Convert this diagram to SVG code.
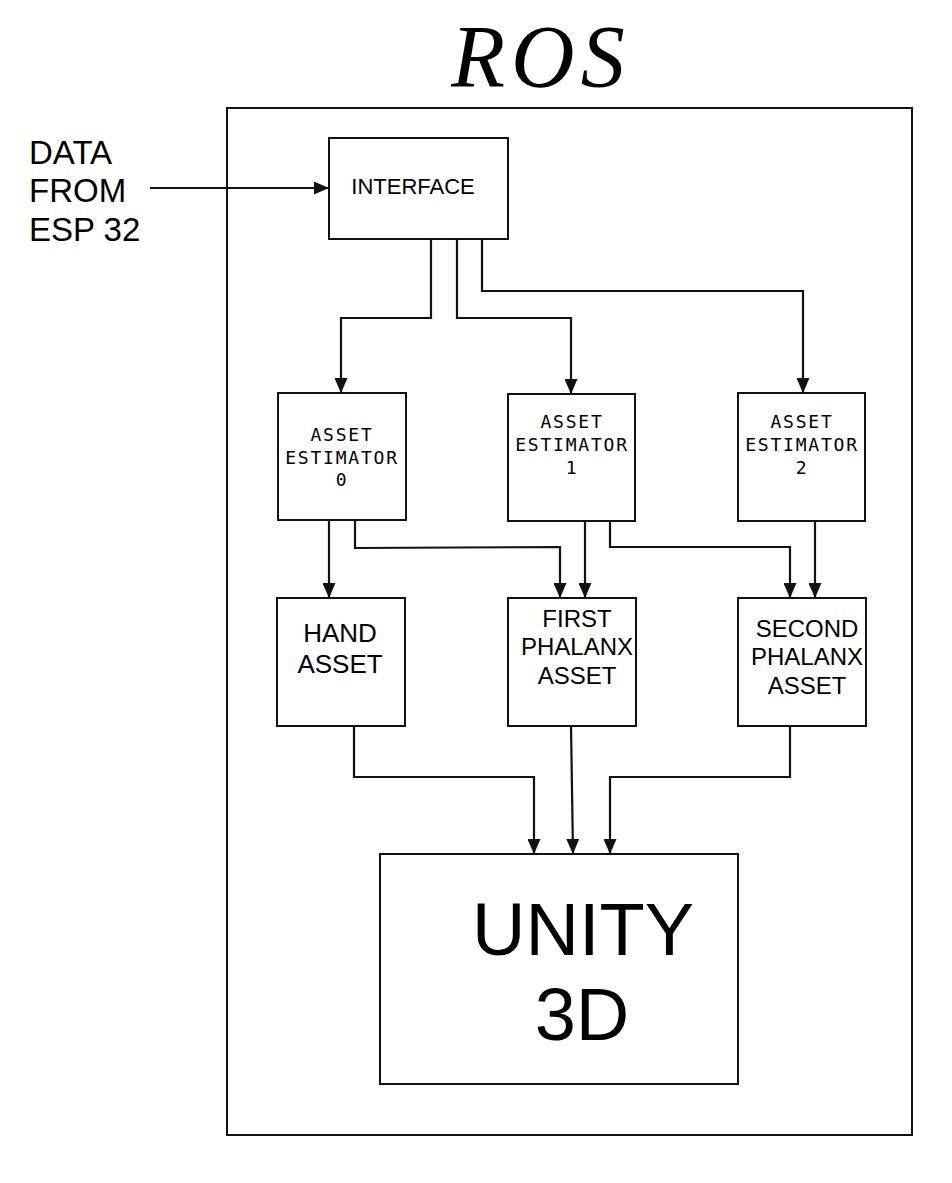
<svg xmlns="http://www.w3.org/2000/svg" width="952" height="1183" viewBox="0 0 952 1183">
<style>
.box{fill:#fff;stroke:#111;stroke-width:2}
.con{fill:none;stroke:#111;stroke-width:2.2}
.sans{font-family:"Liberation Sans",Arial,sans-serif;fill:#000}
.mono{font-family:"DejaVu Sans Mono","Liberation Mono",monospace;font-size:18px;letter-spacing:1.8px;fill:#000;text-anchor:middle}
.mid{text-anchor:middle}
</style>
<defs>
<marker id="arr" markerUnits="userSpaceOnUse" markerWidth="15" markerHeight="13" refX="15" refY="6.5" orient="auto">
<path d="M0,0 L15,6.5 L0,13 z" fill="#111"/>
</marker>
</defs>
<rect width="952" height="1183" fill="#fff"/>
<text x="541" y="86" class="mid" style="font-family:'Liberation Serif','Times New Roman',serif;font-style:italic;font-size:88px;letter-spacing:6px">ROS</text>
<g id="ros"><rect class="box" x="227" y="108" width="685" height="1027" fill="none"/></g>
<g id="data-source">
<text class="sans" x="30" style="font-size:33px"><tspan x="29" y="164">DATA</tspan><tspan x="29" y="202">FROM</tspan><tspan x="29" y="241">ESP 32</tspan></text>
</g>
<g id="interface">
<rect class="box" x="329" y="138" width="179" height="101"/>
<text class="sans" x="413" y="194" text-anchor="middle" style="font-size:22px">INTERFACE</text>
</g>
<g id="estimator0">
<rect class="box" x="278" y="393" width="128" height="127"/>
<text class="mono"><tspan x="342" y="441">ASSET</tspan><tspan x="342" y="464">ESTIMATOR</tspan><tspan x="342" y="486">0</tspan></text>
</g>
<g id="estimator1">
<rect class="box" x="508" y="394" width="127" height="127"/>
<text class="mono"><tspan x="572" y="428">ASSET</tspan><tspan x="572" y="451">ESTIMATOR</tspan><tspan x="572" y="474">1</tspan></text>
</g>
<g id="estimator2">
<rect class="box" x="738" y="393" width="127" height="128"/>
<text class="mono"><tspan x="802" y="428">ASSET</tspan><tspan x="802" y="451">ESTIMATOR</tspan><tspan x="802" y="474">2</tspan></text>
</g>
<g id="hand-asset">
<rect class="box" x="277" y="598" width="128" height="128"/>
<text class="sans mid" style="font-size:26px"><tspan x="340" y="642">HAND</tspan><tspan x="340" y="673">ASSET</tspan></text>
</g>
<g id="first-phalanx">
<rect class="box" x="508" y="598" width="128" height="128"/>
<text class="sans mid" style="font-size:24px"><tspan x="577" y="627">FIRST</tspan><tspan x="577" y="655">PHALANX</tspan><tspan x="577" y="684">ASSET</tspan></text>
</g>
<g id="second-phalanx">
<rect class="box" x="738" y="598" width="128" height="128"/>
<text class="sans mid" style="font-size:24px"><tspan x="807" y="637">SECOND</tspan><tspan x="807" y="665">PHALANX</tspan><tspan x="807" y="694">ASSET</tspan></text>
</g>
<g id="unity">
<rect class="box" x="380" y="854" width="358" height="230"/>
<text class="sans mid" style="font-size:74px"><tspan x="583" y="955">UNITY</tspan><tspan x="582" y="1040">3D</tspan></text>
</g>
<g id="connectors">
<path class="con" marker-end="url(#arr)" d="M150,188 L329,188"/>
<path class="con" marker-end="url(#arr)" d="M431,239 L431,318 L341,318 L341,393"/>
<path class="con" marker-end="url(#arr)" d="M457,239 L457,318 L571,318 L571,394"/>
<path class="con" marker-end="url(#arr)" d="M482,239 L482,291 L803,291 L803,393"/>
<path class="con" marker-end="url(#arr)" d="M329,520 L329,598"/>
<path class="con" marker-end="url(#arr)" d="M355,520 L355,548 L560,547 L560,598"/>
<path class="con" marker-end="url(#arr)" d="M585,521 L585,598"/>
<path class="con" marker-end="url(#arr)" d="M610,521 L610,547 L790,547 L790,598"/>
<path class="con" marker-end="url(#arr)" d="M815,521 L815,598"/>
<path class="con" marker-end="url(#arr)" d="M354,726 L354,777 L534,777 L534,854"/>
<path class="con" marker-end="url(#arr)" d="M571,726 L573,854"/>
<path class="con" marker-end="url(#arr)" d="M790,726 L790,777 L610,777 L610,854"/>
</g>
</svg>
